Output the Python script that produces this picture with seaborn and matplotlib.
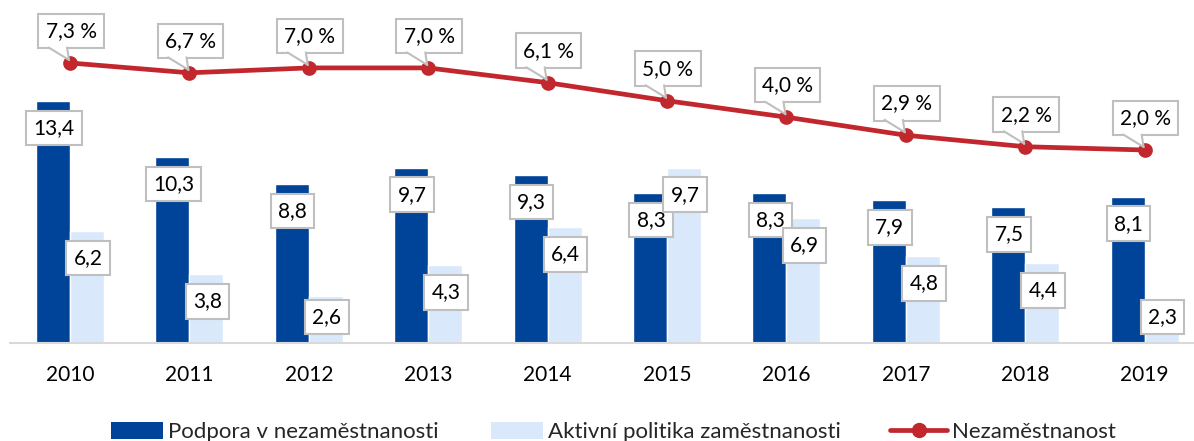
import numpy as np
import pandas as pd
import matplotlib
matplotlib.use("Agg")
import matplotlib.pyplot as plt
import seaborn as sns
from matplotlib.patches import Patch, Polygon
from matplotlib.lines import Line2D
from matplotlib.transforms import IdentityTransform

# ---- data ----
years = ["2010", "2011", "2012", "2013", "2014", "2015", "2016", "2017", "2018", "2019"]
podpora = [13.4, 10.3, 8.8, 9.7, 9.3, 8.3, 8.3, 7.9, 7.5, 8.1]
aktivni = [6.2, 3.8, 2.6, 4.3, 6.4, 9.7, 6.9, 4.8, 4.4, 2.3]
nezamestnanost = [7.3, 6.7, 7.0, 7.0, 6.1, 5.0, 4.0, 2.9, 2.2, 2.0]
series_names = ["Podpora v nezaměstnanosti", "Aktivní politika zaměstnanosti", "Nezaměstnanost"]

# ---- style ----
DARK = "#00449A"
LIGHT = "#DAE8FC"
RED = "#C1272D"
BOX_EDGE = "#BFBFBF"
AXIS_C = "#D9D9D9"
FS = 15
LEG_FS = 16

sns.set_theme(style="white")
plt.rcParams["font.family"] = ["Lato", "DejaVu Sans"]

W, H = 1194, 441
fig = plt.figure(figsize=(W / 100, H / 100), dpi=100)
ax = fig.add_axes([10.3 / W, 98 / H, 1194 / W, 343 / H])

df = pd.DataFrame({
    "year": years * 2,
    "value": podpora + aktivni,
    "series": [series_names[0]] * len(years) + [series_names[1]] * len(years),
})
sns.barplot(data=df, x="year", y="value", hue="series", order=years,
            hue_order=series_names[:2], palette=[DARK, LIGHT], width=0.57,
            saturation=1, legend=False, ax=ax)
ax.set_xlim(-0.5, len(years) - 0.5)
ax.set_ylim(0, 343 / 18.07)
ax.set_xlabel("")
ax.set_ylabel("")
ax.set_yticks([])
for s in ["top", "left", "right"]:
    ax.spines[s].set_visible(False)
ax.spines["bottom"].set_color(AXIS_C)
ax.spines["bottom"].set_linewidth(1.5)
ax.tick_params(axis="x", length=0, pad=16, labelsize=FS, colors="black")

ax2 = ax.twinx()
sns.pointplot(x=years, y=nezamestnanost, order=years, color=RED, markers="o",
              linestyles="-", markersize=8, linewidth=3.4, ax=ax2)
ax2.set_xlim(-0.5, len(years) - 0.5)
ax2.set_ylim(-9.754, 11.135)
ax2.set_yticks([])
ax2.set_ylabel("")
for s in ["top", "left", "right", "bottom"]:
    ax2.spines[s].set_visible(False)

fig.canvas.draw()

box_kw = dict(boxstyle="square,pad=0.35", fc="white", ec=BOX_EDGE, lw=1.5)

# bar labels
for cont, vals in zip(ax.containers, [podpora, aktivni]):
    for bar, v in zip(cont, vals):
        xc = bar.get_x() + bar.get_width() / 2
        top_px = ax.transData.transform((xc, v))[1]
        base_px = ax.transData.transform((xc, 0))[1]
        off = max(-27, 26 - (top_px - base_px))
        ax.annotate(f"{v:.1f}".replace(".", ","), xy=(xc, v), xytext=(1, off),
                    textcoords="offset pixels", ha="center", va="center",
                    fontsize=FS, color="black", bbox=box_kw)

# line labels with callout pointers
line_anns = []
for i, v in enumerate(nezamestnanost):
    a = ax2.annotate(f"{v:.1f} %".replace(".", ","), xy=(i, v), xytext=(1, 32),
                     textcoords="offset pixels", ha="center", va="center",
                     fontsize=FS, color="black", bbox=box_kw, zorder=4)
    line_anns.append((a, i, v))

fig.canvas.draw()
renderer = fig.canvas.get_renderer()
for a, i, v in line_anns:
    ext = a.get_bbox_patch().get_window_extent(renderer)
    tip = ax2.transData.transform((i, v))
    x0 = ext.x0 + 0.16 * ext.width
    x1 = ext.x0 + 0.44 * ext.width
    b = ext.y0 + 0.75
    tx, ty = tip[0] - 1, tip[1] + 3
    poly = Polygon([(x0, b + 2), (x1, b + 2), (x1, b), (tx, ty), (x0, b)], closed=True,
                   fc="white", ec="none", transform=IdentityTransform(), zorder=4.5)
    ax2.add_artist(poly)
    for xs in (x0, x1):
        ax2.add_artist(Line2D([xs, tx], [b, ty], color=BOX_EDGE, lw=1.5,
                              transform=IdentityTransform(), zorder=4.6))

# legends
fpx = LEG_FS * 100 / 72
leg_specs = [
    (Patch(facecolor=DARK, edgecolor="none"), series_names[0], 111, 52),
    (Patch(facecolor=LIGHT, edgecolor="none"), series_names[1], 491, 52),
    (Line2D([], [], color=RED, lw=3.4, marker="o", markersize=10), series_names[2], 890, 57),
]
for handle, label, xl, hl in leg_specs:
    fig.legend(handles=[handle], labels=[label], loc="center left",
               bbox_to_anchor=(xl / W, 9 / H), frameon=False, fontsize=LEG_FS,
               handlelength=hl / fpx, handleheight=0.8, handletextpad=5 / fpx,
               borderpad=0, borderaxespad=0)

fig.savefig("out.png", dpi=100)
